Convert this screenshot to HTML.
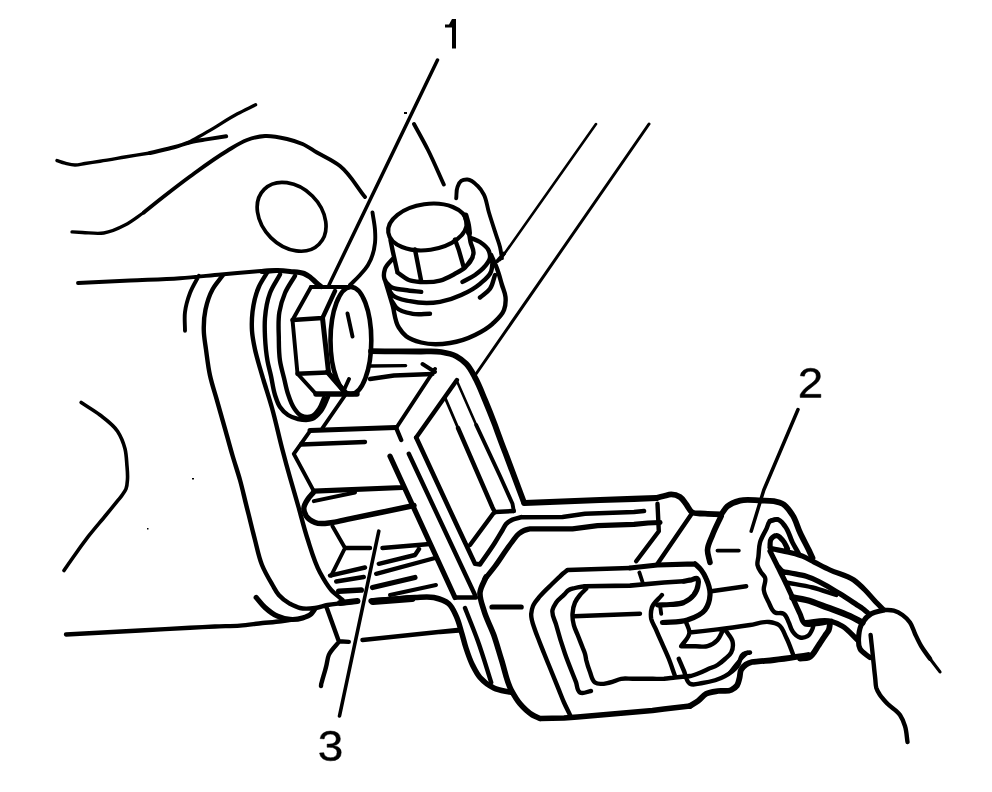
<!DOCTYPE html>
<html><head><meta charset="utf-8"><title>Diagram</title>
<style>html,body{margin:0;padding:0;background:#fff;}body{width:992px;height:792px;overflow:hidden;font-family:"Liberation Sans",sans-serif;}svg{display:block;}</style></head>
<body>
<svg width="992" height="792" viewBox="0 0 992 792">
<rect width="992" height="792" fill="#fff"/>
<g fill="none" stroke="#000" stroke-linecap="round" stroke-linejoin="round">
<path stroke-width="2.6" d="M456.9 381.0L476.2 425.0 M596.0 124.0L500.0 260.0"/>
<path stroke-width="2.9" d="M445.0 397.5L458.0 428.0"/>
<path stroke-width="3.0" d="M649.0 124.0L476.0 374.0"/>
<path stroke-width="3.2" d="M930.0 658.8L940.0 671.9"/>
<path stroke-width="3.3" d="M188.0 143.0C196.2 138.2 204.4 133.6 212.5 128.8C220.9 123.8 228.9 118.4 237.5 113.8C243.4 110.6 249.6 107.8 255.6 104.8 M72.0 231.9C75.5 232.1 79.0 232.3 82.5 232.5C89.6 232.8 96.8 234.1 103.8 233.0C111.2 231.8 118.3 228.5 125.0 225.0C131.7 221.6 137.5 216.7 143.8 212.5"/>
<path stroke-width="3.4" d="M57.0 160.6C59.7 161.5 62.3 162.5 65.0 163.2C68.3 164.0 71.6 165.0 75.0 165.0C78.4 165.0 81.7 164.0 85.0 163.5C90.0 162.7 95.0 162.0 100.0 161.2C108.4 159.9 116.7 158.4 125.0 157.0C133.3 155.6 141.7 154.3 150.0 153.0 M370.0 366.0L405.6 365.6"/>
<path stroke-width="3.5" d="M437.5 60.0L329.0 285.0 M798.0 409.5L763.8 490.0L751.2 531.2"/>
<path stroke-width="3.6" d="M378.8 531.2L339.5 716.0 M81.2 402.5C87.5 406.7 94.1 410.4 100.0 415.0C106.3 419.9 113.1 424.6 117.5 431.2C121.0 436.5 123.4 442.6 125.0 448.8C126.3 454.0 126.5 459.6 126.9 465.0C127.3 469.7 127.8 474.3 127.5 479.0C127.3 482.3 127.2 485.7 126.0 488.8C125.1 491.0 123.6 493.0 122.2 495.0C120.9 497.0 119.2 498.8 117.7 500.7C113.8 505.4 109.9 510.2 106.0 515.0C100.2 522.1 94.1 529.0 88.5 536.2C83.8 542.4 79.2 548.7 74.8 555.0C71.1 560.1 67.6 565.3 64.0 570.5"/>
<path stroke-width="3.9" d="M150.0 153.0C158.3 151.0 166.7 149.3 175.0 147.0C180.5 145.5 185.7 143.3 191.2 142.0C196.2 140.8 201.2 140.2 206.2 139.4C212.9 138.3 219.6 137.3 226.2 136.2 M143.8 212.5C150.0 207.5 156.2 202.4 162.5 197.5C171.6 190.4 180.7 183.3 190.0 176.5C202.1 167.7 214.1 158.7 227.0 151.0C233.5 147.1 239.8 142.6 247.0 140.0C252.8 137.9 258.9 136.4 265.0 136.0C272.4 135.6 279.8 137.3 287.0 139.0C292.3 140.3 297.5 141.8 302.5 144.0C307.5 146.2 311.9 149.5 316.5 152.2C324.4 156.8 332.9 160.3 340.0 166.0C350.3 174.3 356.7 186.7 365.0 197.0 M414.0 124.0C418.7 132.7 423.6 141.2 428.0 150.0C433.7 161.3 438.5 173.0 443.8 184.5 M372.5 212.5C373.3 218.3 374.6 224.1 375.0 230.0C375.3 234.3 375.5 238.7 375.0 243.0C374.2 250.6 372.0 258.4 368.0 265.0C365.8 268.7 362.8 271.8 360.0 275.0C356.9 278.5 353.3 281.7 350.0 285.0 M78.0 283.0C95.3 282.2 112.7 281.3 130.0 280.5C146.7 279.7 163.4 279.4 180.0 278.2C193.7 277.3 207.3 275.7 221.0 274.5C232.3 273.5 243.7 272.4 255.0 271.5C262.5 270.9 270.0 270.5 277.5 270.0 M198.8 275.8C195.8 281.5 192.3 287.0 190.0 293.0C187.7 299.1 185.8 305.5 185.0 312.0C184.2 318.2 185.0 324.5 185.0 330.8 M311.0 287.0L292.5 320.0L297.5 373.8L316.0 394.0 M347.5 313.5L352.5 336.5 M349.0 379.0L344.0 390.0 M346.0 394.0L322.5 428.0 M422.5 364.0L435.0 372.0 M435.0 369.0L396.2 428.0 M310.0 431.2L293.8 453.8L313.8 491.2 M313.8 501.2L355.0 492.5 M332.5 526.2L345.0 548.0L331.2 575.6 M390.0 595.0L436.0 585.0 M476.2 425.0L500.0 476.0L512.5 503.8L513.8 511.2 M456.2 198.2C456.7 194.5 456.1 190.5 457.5 187.0C458.4 184.7 459.2 182.1 461.2 180.8C463.0 179.6 465.4 179.4 467.5 179.5C471.4 179.7 474.7 183.0 477.5 185.8C480.1 188.2 482.1 191.3 483.8 194.5C486.6 199.8 487.0 206.2 488.8 212.0C491.2 220.1 493.9 228.1 496.5 236.1C497.7 239.8 499.1 243.3 500.0 247.0C500.9 250.7 501.3 254.5 501.9 258.2 M504.0 253.5L497.5 261.0 M639.4 572.5L642.5 582.0 M660.0 605.0L661.2 613.8 M717.5 550.6L738.8 550.6 M747.5 652.5C745.0 655.0 742.4 657.4 740.0 660.0C736.4 663.9 733.3 668.3 730.0 672.5"/>
<path stroke-width="4.2" d="M311.0 287.0L352.5 287.0"/>
<path stroke-width="4.4" d="M222.5 275.8C219.2 280.3 215.2 284.5 212.5 289.5C209.1 295.7 207.0 302.6 205.5 309.5C204.0 316.5 203.6 323.6 203.8 330.8C203.9 337.0 205.2 343.3 206.0 349.5C207.2 358.2 208.1 366.9 210.0 375.5C211.9 384.1 214.7 392.4 217.1 400.8C219.9 410.8 222.7 420.8 225.6 430.8C227.9 439.1 230.1 447.3 232.5 455.5C234.9 463.7 237.7 471.8 240.0 480.0C242.3 488.2 244.1 496.6 246.2 504.9C247.0 508.2 247.9 511.5 248.7 514.8C250.8 523.2 252.8 531.6 255.0 540.0C257.2 548.4 258.7 557.0 262.0 565.0C264.8 572.0 268.7 578.5 272.5 585.0C274.5 588.4 276.2 592.0 278.8 595.0C281.9 598.6 285.9 601.4 290.0 603.8C293.2 605.5 296.5 607.2 300.0 608.0C304.9 609.2 310.0 608.6 315.0 608.0C319.3 607.5 323.3 605.8 327.5 605.0C332.9 604.0 338.3 603.7 343.8 603.0C348.3 602.4 352.9 601.8 357.5 601.2 M267.5 272.0C264.6 277.0 261.1 281.7 258.8 287.0C255.3 294.9 253.5 303.5 252.5 312.0C251.8 318.2 251.6 324.5 252.0 330.8C252.4 337.1 253.7 343.3 255.0 349.5C256.0 354.0 257.3 358.5 258.5 363.0C260.1 368.7 261.8 374.3 263.5 380.0C266.3 389.3 269.4 398.6 272.0 408.0C275.9 421.9 278.8 436.0 282.5 450.0C284.9 459.2 287.4 468.4 290.0 477.5C292.8 487.4 295.7 497.2 298.5 507.0C301.5 517.6 304.1 528.3 307.5 538.8C311.2 550.2 314.3 561.9 320.0 572.5C323.3 578.6 326.6 584.8 331.2 590.0C334.6 593.7 338.8 596.7 342.5 600.0 M280.0 274.5C276.7 280.7 272.5 286.4 270.0 293.0C267.0 301.0 265.7 309.5 265.0 318.0C264.5 324.3 264.7 330.7 265.0 337.0C265.4 345.0 266.1 352.9 267.5 360.8C268.4 365.9 269.9 370.9 271.0 376.0C272.4 382.3 273.0 388.9 275.0 395.0C276.4 399.1 277.5 403.4 280.0 407.0C282.1 410.1 284.8 412.9 288.0 415.0C291.0 417.0 294.5 418.2 298.0 419.0C302.6 420.0 307.7 420.8 312.0 419.0C315.7 417.5 318.5 414.1 321.0 411.0C324.3 406.9 325.7 401.7 328.0 397.0 M295.0 275.8C291.7 281.5 287.6 286.9 285.0 293.0C282.4 299.1 280.5 305.5 279.4 312.0C278.0 320.2 278.6 328.7 278.8 337.0C278.9 344.9 278.8 352.9 280.0 360.8C280.9 366.6 282.6 372.3 284.0 378.0C285.3 383.3 286.2 388.8 288.0 394.0C289.6 398.8 291.1 403.8 294.0 408.0C296.0 410.8 297.9 414.0 301.0 415.5C304.3 417.1 308.6 417.4 312.0 416.0C315.0 414.7 317.1 411.7 319.0 409.0C321.4 405.7 322.3 401.7 324.0 398.0 M292.5 320.0L322.5 318.0 M322.5 318.0L335.0 291.0 M327.5 372.5L297.5 373.8 M370.0 379.0L394.0 375.5L432.5 374.0 M396.2 428.0L401.2 440.0 M301.0 444.5L365.0 442.0 M345.0 548.0L370.0 548.0 M330.0 575.6L365.0 567.5 M336.2 581.5L363.8 577.0 M382.5 548.0L430.0 544.0 M378.8 563.8L415.0 555.0L419.0 549.0 M376.2 573.8L435.0 558.0 M455.0 597.5L476.0 597.5 M408.8 453.8L475.0 595.0 M416.2 437.5L456.9 380.0 M458.0 428.0L492.5 507.5L495.0 512.5 M495.0 512.0L513.8 511.0 M494.0 512.5L470.0 545.0 M657.5 503.8L658.8 531.2L636.2 561.2 M691.2 514.4L657.5 563.8 M390.5 240.0L392.5 250.0L397.5 272.5 M469.0 233.0C469.5 236.0 469.9 239.0 470.5 242.0C471.3 245.7 473.8 249.2 473.5 253.0C473.2 256.2 471.8 259.3 470.0 262.0C468.4 264.5 465.8 266.2 463.8 268.2 M415.0 249.5L421.2 281.2 M455.0 239.5L458.8 250.0L463.8 267.5 M397.5 272.5C401.2 275.0 404.5 278.4 408.8 280.0C412.7 281.5 417.0 281.7 421.2 282.0C427.5 282.4 433.9 282.2 440.0 280.6C445.3 279.2 450.2 276.4 455.0 273.8C458.4 271.9 462.1 270.1 465.0 267.5C468.1 264.7 470.0 260.8 472.5 257.5 M393.5 258.0C390.7 261.6 386.4 264.4 385.0 268.8C384.0 271.9 383.4 275.6 384.4 278.8C385.3 281.7 387.6 284.3 390.0 286.2C394.0 289.5 399.9 289.1 405.0 290.0C410.4 291.0 415.8 291.3 421.2 291.9 M462.5 281.9C466.7 279.6 471.1 277.7 475.0 275.0C478.6 272.4 482.3 269.7 485.0 266.2C487.1 263.6 489.7 260.8 490.0 257.5C490.2 255.2 489.6 252.9 488.8 250.8C487.2 246.9 483.4 244.3 480.0 242.0C477.3 240.2 474.0 239.3 471.0 238.0 M386.2 283.8C388.3 287.5 389.4 292.0 392.5 295.0C396.9 299.3 404.0 299.9 410.0 301.2C419.8 303.4 430.1 303.6 440.0 301.9C447.3 300.6 454.5 298.1 461.2 295.0C467.9 292.0 474.5 288.5 480.0 283.8C484.3 280.1 489.4 276.5 491.2 271.2C492.2 268.5 492.1 265.4 492.5 262.5 M391.2 300.0C392.9 302.5 394.1 305.4 396.2 307.5C400.4 311.6 406.8 312.7 412.5 313.8C418.2 314.8 424.2 313.8 430.0 313.8 M480.0 297.5C483.3 294.6 487.5 292.4 490.0 288.8C492.8 284.8 493.3 279.6 495.0 275.0 M491.2 255.0C493.3 260.0 495.7 264.9 497.5 270.0C499.3 274.9 500.5 280.0 502.0 285.0C503.2 289.0 505.1 292.8 505.5 297.0C505.9 301.3 505.5 305.9 504.0 310.0C501.9 315.6 496.9 319.7 492.5 323.8C487.4 328.4 481.2 331.9 475.0 335.0C467.1 338.9 458.6 341.7 450.0 343.0C440.5 344.5 430.5 345.0 421.2 342.5C416.0 341.1 410.5 339.6 406.2 336.2C403.2 333.9 400.8 330.7 398.8 327.5C394.6 320.9 394.7 312.5 392.5 305.0C390.1 296.6 387.5 288.3 385.0 280.0 M66.0 634.5C90.7 633.2 115.3 631.8 140.0 630.5C156.7 629.6 173.3 628.7 190.0 627.8C198.3 627.4 206.7 626.9 215.0 626.5C223.3 626.1 231.7 626.2 240.0 625.6C247.5 625.0 255.0 623.8 262.5 623.0C268.7 622.4 275.0 622.1 281.2 621.2C284.8 620.8 288.4 620.1 292.0 619.5 M326.2 606.2L338.8 641.2L348.8 641.9 M338.8 642.0C335.4 646.3 330.9 650.0 328.8 655.0C327.3 658.5 327.2 662.5 326.2 666.2C325.1 670.9 323.6 675.5 322.3 680.1C322.0 681.4 321.5 682.7 321.2 684.0C321.1 684.7 321.1 685.3 321.0 686.0 M362.5 640.0L457.5 630.0 M465.0 608.0C469.2 618.7 473.6 629.2 477.5 640.0C482.6 654.0 486.7 668.3 491.2 682.5 M440.0 632.0L458.8 630.6 M630.0 568.0L567.5 570.0 M567.5 570.0C566.0 571.2 564.4 572.3 563.0 573.5C561.6 574.7 560.3 576.1 558.9 577.4C556.6 579.6 554.3 581.8 552.0 584.0C547.9 588.0 543.6 591.8 540.0 596.2C537.5 599.3 534.5 602.3 533.0 606.0C532.0 608.5 531.4 611.3 531.2 614.0C530.9 619.5 533.3 624.8 535.0 630.0C536.1 633.4 537.5 636.7 538.8 640.0C540.0 643.3 541.4 646.6 542.7 649.9C544.7 654.9 546.7 660.0 548.8 665.0C552.1 673.2 555.4 681.4 558.8 689.7C560.5 693.9 562.1 698.3 564.0 702.5C565.9 706.7 568.0 710.8 570.0 715.0 M585.0 586.2C581.7 586.8 578.3 587.1 575.0 588.0C572.9 588.6 570.6 588.9 568.8 590.0C566.9 591.1 565.7 593.1 564.1 594.6C561.5 597.3 558.3 599.4 556.2 602.5C554.7 604.8 553.1 607.3 552.5 610.0C551.4 615.0 554.9 620.0 556.2 625.0C558.8 634.7 561.7 644.3 565.0 653.8C568.3 663.3 572.3 672.7 576.0 682.1C577.3 685.6 576.8 690.6 580.0 692.5C583.2 694.4 587.3 691.5 591.0 691.0 M586.2 588.8C584.2 590.8 581.9 592.7 580.0 595.0C578.1 597.3 576.2 599.8 575.0 602.5C573.4 606.0 572.7 609.9 572.5 613.8C572.3 617.5 572.8 621.3 573.8 625.0C574.7 628.7 576.5 632.0 577.9 635.5C579.5 639.6 581.1 643.7 582.7 647.8C583.5 649.8 584.4 651.7 585.0 653.8C585.6 655.8 585.8 657.9 586.2 660.0C587.2 664.1 588.5 668.1 590.0 672.0C591.4 675.6 591.9 680.2 595.0 682.5C599.0 685.5 605.1 683.4 610.0 682.5C613.9 681.8 617.3 679.4 621.2 678.8C625.0 678.2 628.8 678.8 632.5 678.8C636.2 678.8 640.0 678.8 643.8 678.8C646.8 678.8 649.9 678.8 652.9 678.8C656.6 678.8 660.3 679.0 664.0 678.8C667.7 678.5 671.3 677.9 675.0 677.5C680.0 677.0 685.0 676.5 690.0 676.0 M573.8 616.2L640.0 613.8 M661.9 595.0C658.6 599.2 653.5 602.4 651.9 607.5C650.8 611.1 650.6 615.1 651.2 618.8C651.9 622.4 654.3 625.6 655.8 629.1C657.6 633.4 659.5 637.7 661.4 641.9C663.8 647.5 666.5 653.1 668.8 658.8C671.0 664.4 672.9 670.2 675.0 676.0 M711.2 591.2L746.2 586.2 M686.2 622.5C687.3 625.8 689.5 629.0 689.4 632.5C689.3 637.8 684.0 641.7 681.2 646.2 M681.2 646.2C686.1 646.2 690.9 646.2 695.7 646.2C699.6 646.2 703.7 647.3 707.5 646.2C711.3 645.2 714.8 642.9 717.5 640.0C719.8 637.5 720.8 634.2 722.5 631.2 M689.4 632.5C698.8 631.5 708.1 630.5 717.5 629.4C728.4 628.1 739.2 626.6 750.0 625.0C756.3 624.1 762.5 621.2 768.8 622.0C772.2 622.5 775.9 623.0 778.8 625.0C782.8 627.7 784.0 633.2 786.2 637.5C789.3 643.5 791.2 650.0 793.8 656.2 M726.2 631.2C728.3 634.6 731.7 637.4 732.5 641.2C733.3 644.9 733.0 649.1 731.2 652.5C729.9 655.2 727.2 657.0 725.0 659.0C722.6 661.2 720.2 663.3 717.5 665.0C714.8 666.7 711.6 667.6 708.7 668.8C705.0 670.5 701.3 672.3 697.5 673.8C693.8 675.2 690.0 676.2 686.2 677.5 M678.8 658.8C680.5 662.8 682.2 666.9 684.0 671.0C685.9 675.3 685.9 681.5 690.0 683.8C693.7 685.7 698.4 683.6 702.5 683.0C710.3 681.9 718.2 680.1 725.0 676.2C729.6 673.6 734.2 670.4 737.5 666.2C740.4 662.6 739.6 655.9 743.8 653.8C745.6 652.8 747.9 652.9 750.0 652.5 M777.5 519.4C775.0 520.0 772.0 519.6 770.0 521.2C768.0 522.9 767.8 525.9 766.7 528.2C764.5 533.0 761.4 537.4 760.0 542.5C758.7 547.1 759.0 551.9 758.4 556.7C758.1 559.4 757.0 562.2 757.5 565.0C758.0 567.8 759.7 570.1 761.2 572.5C762.4 574.3 764.2 575.6 765.0 577.5C766.6 581.4 763.2 585.8 763.8 590.0C764.3 594.4 766.7 598.5 768.8 602.5C770.5 606.0 771.6 610.6 775.0 612.5C777.6 613.9 781.3 612.2 783.8 613.8C786.6 615.5 787.3 619.5 788.8 622.5C790.2 625.3 790.6 628.7 792.5 631.2C794.4 633.9 796.8 636.8 800.0 637.5C802.5 638.0 805.3 637.5 807.5 636.2C810.1 634.7 811.4 631.6 812.5 628.8C813.1 627.1 813.3 625.4 813.8 623.8 M786.2 582.5C795.0 584.2 803.9 585.3 812.5 587.5C820.5 589.5 828.3 592.5 836.2 595.0 M883.8 610.0C887.1 610.2 890.5 609.7 893.8 610.6C896.9 611.5 899.8 613.1 902.5 615.0C905.4 617.1 908.0 619.6 910.0 622.5C912.4 625.9 913.3 630.0 915.0 633.8C917.0 638.0 918.9 642.2 921.2 646.2C923.8 650.6 927.1 654.6 930.0 658.8 M870.6 635.0C871.2 640.8 871.9 646.7 872.5 652.5C872.9 656.7 873.3 660.8 873.8 665.0C874.2 669.7 874.8 674.4 875.3 679.2C875.6 681.9 875.5 684.8 876.2 687.5C877.0 690.2 878.5 692.6 880.0 695.0C882.1 698.2 884.9 701.0 887.5 703.8C891.4 707.8 896.9 710.4 900.0 715.0C902.3 718.4 903.8 722.3 905.0 726.2C906.6 731.3 906.7 736.8 907.5 742.0"/>
<path stroke-width="4.6" d="M416.2 437.5L456.2 523.8L475.0 563.8L480.0 564.4 M480.0 564.4C485.0 557.1 490.3 550.0 495.0 542.5C497.5 538.4 499.9 534.3 502.4 530.2C503.7 528.0 504.5 525.6 506.2 523.8C508.0 521.9 510.2 520.7 512.5 519.6C515.2 518.3 518.3 518.0 521.2 517.2 M521.2 517.2L562.5 517.0L585.0 513.8L634.0 512.0L644.0 511.0 M683.8 581.2L664.0 582.5L630.0 585.6L585.0 586.2"/>
<path stroke-width="4.8" d="M770.0 521.2C772.5 520.6 775.0 518.9 777.5 519.4C780.8 520.0 782.9 523.6 785.0 526.2C788.8 530.9 789.8 537.2 792.5 542.5C794.5 546.3 796.7 550.0 798.8 553.8"/>
<path stroke-width="5.0" d="M322.5 318.0L328.5 372.0 M310.0 430.5L396.0 427.5"/>
<path stroke-width="5.2" d="M262.0 271.5C267.2 271.2 272.3 270.4 277.5 270.5C281.7 270.6 285.8 271.0 290.0 271.5C294.7 272.0 299.7 271.7 304.0 273.5C306.1 274.4 308.1 275.6 310.0 277.0C312.2 278.6 313.9 280.7 316.0 282.5C317.6 283.9 319.3 285.2 321.0 286.5 M327.5 372.0L344.0 391.0 M313.8 491.2L402.5 487.5 M372.5 587.5L415.0 577.5 M390.0 456.2L455.0 597.5 M485.0 578.8C488.3 574.6 491.8 570.5 495.0 566.2C499.0 561.0 502.4 555.4 506.2 550.0C508.2 547.3 510.0 544.6 512.0 542.0C514.2 539.2 516.0 536.0 518.8 533.8C520.4 532.5 522.1 531.3 524.0 530.5C525.9 529.7 528.0 529.3 530.0 528.8 M530.0 528.8L572.5 528.8L597.5 525.6L634.0 524.4L648.0 523.0L660.0 522.5 M256.2 597.5C259.2 600.8 261.7 604.5 265.0 607.5C268.8 610.9 272.8 614.2 277.5 616.2C281.4 618.0 285.7 619.1 290.0 619.4C294.2 619.7 298.5 619.3 302.5 618.0C305.6 617.0 308.9 615.9 311.2 613.8C312.8 612.3 313.8 610.4 315.0 608.8 M492.0 607.0L521.2 607.0 M695.0 563.8L657.5 565.0L630.0 568.0 M695.0 563.8C697.1 565.8 699.4 567.7 701.2 570.0C703.3 572.7 704.9 575.7 706.2 578.8C708.5 583.8 710.3 589.4 710.0 595.0C709.7 600.3 708.1 605.8 705.0 610.0C701.0 615.4 693.8 617.8 687.5 620.0C679.6 622.7 670.8 621.7 662.5 622.5 M683.8 581.2C686.3 580.8 688.8 580.3 691.3 579.9C693.4 579.5 695.8 577.5 697.5 578.8C699.2 580.0 698.2 582.9 698.0 585.0C697.7 588.6 695.9 592.1 693.8 595.0C691.2 598.3 687.6 600.8 683.8 602.5C679.5 604.3 674.6 604.1 670.0 604.5C665.8 604.9 661.7 604.8 657.5 605.0 M770.0 547.5C770.4 544.6 769.4 541.1 771.2 538.8C772.5 537.2 774.3 535.7 776.2 535.6C778.8 535.4 780.7 538.2 782.5 540.0C784.8 542.4 785.8 545.8 787.5 548.8 M770.0 551.2C772.5 556.2 775.0 561.2 777.5 566.2C780.4 572.1 783.5 577.9 786.2 583.8C788.4 588.3 790.4 592.9 792.5 597.5C795.0 602.9 797.4 608.4 800.0 613.8C801.6 617.1 801.7 622.0 805.0 623.8C807.6 625.1 810.8 623.9 813.8 623.8C819.6 623.5 825.4 622.1 831.2 621.2 M772.5 548.8C778.3 550.0 784.2 551.0 790.0 552.5C794.2 553.6 798.5 554.6 802.5 556.2C806.5 557.9 810.3 560.1 814.2 562.1C819.4 564.7 824.7 567.5 830.0 570.0C837.8 573.6 846.7 575.1 853.8 580.0C857.9 582.9 861.5 586.5 865.0 590.0C868.2 593.2 870.9 596.7 874.0 600.0C877.2 603.4 880.5 606.7 883.8 610.0 M777.5 566.2C779.2 567.9 780.4 570.1 782.5 571.2C784.6 572.4 787.1 572.2 789.4 572.7C795.0 573.9 800.8 574.6 806.2 576.2C818.4 579.9 829.2 587.2 840.0 593.8C845.8 597.3 851.4 601.2 857.1 605.0C858.9 606.2 860.8 607.2 862.5 608.5C864.2 609.8 865.8 611.2 867.5 612.5 M805.0 622.5C813.8 622.1 822.8 618.9 831.2 621.2C835.2 622.3 839.0 624.1 842.5 626.2C848.3 629.7 852.5 635.4 857.5 640.0 M883.8 610.0C879.6 611.2 875.0 611.5 871.2 613.8C867.7 615.9 864.6 619.0 862.5 622.5C860.2 626.2 859.2 630.7 858.8 635.0C858.3 639.6 857.9 644.7 860.0 648.8C862.0 652.7 866.7 654.6 870.0 657.5"/>
<path stroke-width="5.4" d="M316.0 394.0L357.0 394.0 M313.0 493.0C311.3 495.0 309.4 496.8 308.0 499.0C306.1 502.0 303.7 505.2 303.8 508.8C303.8 511.3 304.9 513.9 306.2 516.0C308.2 519.0 311.6 521.1 315.0 522.5C320.4 524.8 326.7 523.1 332.5 522.5C338.3 521.9 343.9 520.1 349.6 518.9C371.1 514.5 392.5 510.0 414.0 505.5 M371.0 601.0C379.4 600.3 387.9 599.7 396.3 599.0C402.5 598.5 408.8 597.7 415.0 597.5C421.2 597.3 427.6 596.2 433.8 597.5C439.0 598.6 444.7 600.1 448.8 603.8C452.4 607.0 454.2 611.8 456.2 616.2C458.5 621.0 459.7 626.2 461.2 631.2C463.0 636.8 464.2 642.5 466.0 648.0C467.9 653.8 469.8 659.6 472.5 665.0C474.7 669.3 476.8 673.8 480.0 677.5C483.8 681.9 488.6 685.5 493.8 688.0C499.2 690.7 505.4 691.0 511.2 692.5"/>
<path stroke-width="5.6" d="M338.8 591.2L361.2 590.0 M486.0 577.0C484.0 582.2 480.5 587.0 480.0 592.5C479.5 598.4 482.1 604.3 483.8 610.0C486.2 618.6 490.7 626.5 493.8 635.0C496.5 642.8 498.7 650.8 501.2 658.8C504.6 669.2 506.2 680.3 511.2 690.0C513.8 694.8 516.5 699.6 520.0 703.8C523.6 708.0 527.7 712.1 532.5 715.0C534.9 716.4 537.5 717.3 540.0 718.5 M540.0 718.5L564.0 718.0L577.5 717.0L615.0 713.8L652.5 710.5L664.0 709.0L690.0 706.0 M721.2 516.0C718.3 522.3 715.0 528.5 712.5 535.0C710.6 539.9 707.7 544.7 707.5 550.0C707.4 554.2 709.2 558.3 710.0 562.5"/>
<path stroke-width="5.8" d="M371.0 351.2C380.2 351.3 389.5 351.3 398.7 351.4C405.8 351.4 412.9 351.4 420.0 351.5C427.1 351.6 434.3 350.8 441.2 352.0C446.4 352.9 451.6 353.8 456.2 356.2C459.9 358.2 463.3 360.8 466.2 363.8C470.0 367.6 472.4 372.8 475.0 377.5C479.0 384.7 481.8 392.4 485.0 400.0C488.5 408.3 491.8 416.6 495.0 425.0C496.7 429.6 498.3 434.2 500.0 438.8C501.7 443.3 503.4 447.9 505.2 452.4C511.4 469.1 517.7 485.8 524.0 502.5 M656.2 498.0C658.8 497.3 661.4 496.6 664.0 496.0C666.4 495.4 668.8 494.4 671.2 494.4C674.3 494.4 677.4 495.3 680.0 497.0C682.6 498.7 684.1 501.6 686.0 504.0C688.3 506.8 689.3 510.9 692.5 512.5C694.8 513.6 697.5 513.3 700.0 513.5C702.5 513.7 705.0 513.7 707.6 513.8C712.1 514.0 716.7 514.2 721.2 514.4 M690.0 706.0C692.7 704.3 695.5 702.9 698.0 701.0C701.0 698.8 703.0 695.5 706.2 693.8C709.8 691.9 714.0 691.6 718.0 691.0C722.4 690.3 727.3 692.0 731.2 690.0C733.4 688.9 735.6 687.5 737.0 685.5C738.5 683.4 738.8 680.6 739.5 678.0C740.2 675.4 739.8 672.4 741.0 670.0C742.1 667.8 744.0 665.9 746.0 664.5C747.8 663.3 749.9 662.5 752.0 662.0C754.1 661.5 756.3 661.6 758.5 661.4C763.6 660.9 768.8 660.6 774.0 660.0C785.4 658.8 796.7 656.7 808.0 655.0 M721.2 514.4C723.3 511.7 724.9 508.5 727.5 506.2C731.0 503.3 735.6 501.8 740.0 500.6C746.8 498.8 754.2 500.4 761.2 500.6C765.4 500.7 769.6 500.5 773.8 501.2C776.7 501.8 779.8 502.3 782.5 503.8C786.9 506.1 789.7 510.8 792.5 515.0C796.0 520.3 797.3 526.7 800.0 532.5C802.7 538.4 805.9 544.1 808.8 550.0C810.0 552.7 811.2 555.3 812.5 558.0 M830.0 623.8C829.6 625.8 829.6 628.0 828.8 630.0C827.9 632.0 826.4 633.5 825.2 635.3C823.1 638.5 821.0 641.8 818.8 645.0C815.6 649.3 813.7 655.5 808.8 657.5C806.0 658.6 802.9 658.2 800.0 658.5"/>
<path stroke-width="6.0" d="M465.5 215.5C466.3 218.7 467.4 221.8 468.0 225.0C468.5 227.6 468.7 230.3 469.0 233.0 M340.0 603.0L357.5 601.0"/>
<path stroke-width="6.2" d="M524.4 503.0L600.0 500.0L634.0 498.8L656.2 498.0"/>
<path stroke-width="6.4" d="M792.5 597.5C797.1 598.3 801.7 598.9 806.2 600.0C813.5 601.8 820.5 604.9 827.5 607.5C835.0 610.3 842.7 612.9 850.0 616.2C854.2 618.2 858.3 620.4 862.5 622.5"/>
<path stroke-width="7" d="M373.0 601.5L412.0 598.5"/>
</g>
<g fill="none" stroke="#000">
<ellipse cx="291.6" cy="216.8" rx="38.8" ry="29.4" transform="rotate(45 291.6 216.8)" stroke-width="3.7"/>
<ellipse cx="350.9" cy="340.5" rx="20.4" ry="53.5" stroke-width="4.6"/>
<ellipse cx="427.4" cy="227" rx="39.5" ry="23" transform="rotate(-8 427.4 227)" stroke-width="4.2"/>
</g>
<path fill="#000" d="M445 24.5H449L452 19H456V48.5H452V27.5H445Z"/>
<path fill="#000" stroke="#000" stroke-width="23.5" stroke-linejoin="round" transform="matrix(0.02219 0 0 -0.02042 797.86 397.45)" d="M103 0V127Q154 244 227.5 333.5Q301 423 382.0 495.5Q463 568 542.5 630.0Q622 692 686.0 754.0Q750 816 789.5 884.0Q829 952 829 1038Q829 1154 761.0 1218.0Q693 1282 572 1282Q457 1282 382.5 1219.5Q308 1157 295 1044L111 1061Q131 1230 254.5 1330.0Q378 1430 572 1430Q785 1430 899.5 1329.5Q1014 1229 1014 1044Q1014 962 976.5 881.0Q939 800 865.0 719.0Q791 638 582 468Q467 374 399.0 298.5Q331 223 301 153H1036V0Z"/>
<path fill="#000" stroke="#000" stroke-width="23.3" stroke-linejoin="round" transform="matrix(0.02235 0 0 -0.02055 317.81 760.44)" d="M1049 389Q1049 194 925.0 87.0Q801 -20 571 -20Q357 -20 229.5 76.5Q102 173 78 362L264 379Q300 129 571 129Q707 129 784.5 196.0Q862 263 862 395Q862 510 773.5 574.5Q685 639 518 639H416V795H514Q662 795 743.5 859.5Q825 924 825 1038Q825 1151 758.5 1216.5Q692 1282 561 1282Q442 1282 368.5 1221.0Q295 1160 283 1049L102 1063Q122 1236 245.5 1333.0Q369 1430 563 1430Q775 1430 892.5 1331.5Q1010 1233 1010 1057Q1010 922 934.5 837.5Q859 753 715 723V719Q873 702 961.0 613.0Q1049 524 1049 389Z"/>
<rect x="404" y="112" width="3" height="2" fill="#000"/><rect x="192" y="478" width="2" height="1.5" fill="#000"/><rect x="147" y="528" width="1.5" height="1.5" fill="#000"/>
</svg>
</body></html>
